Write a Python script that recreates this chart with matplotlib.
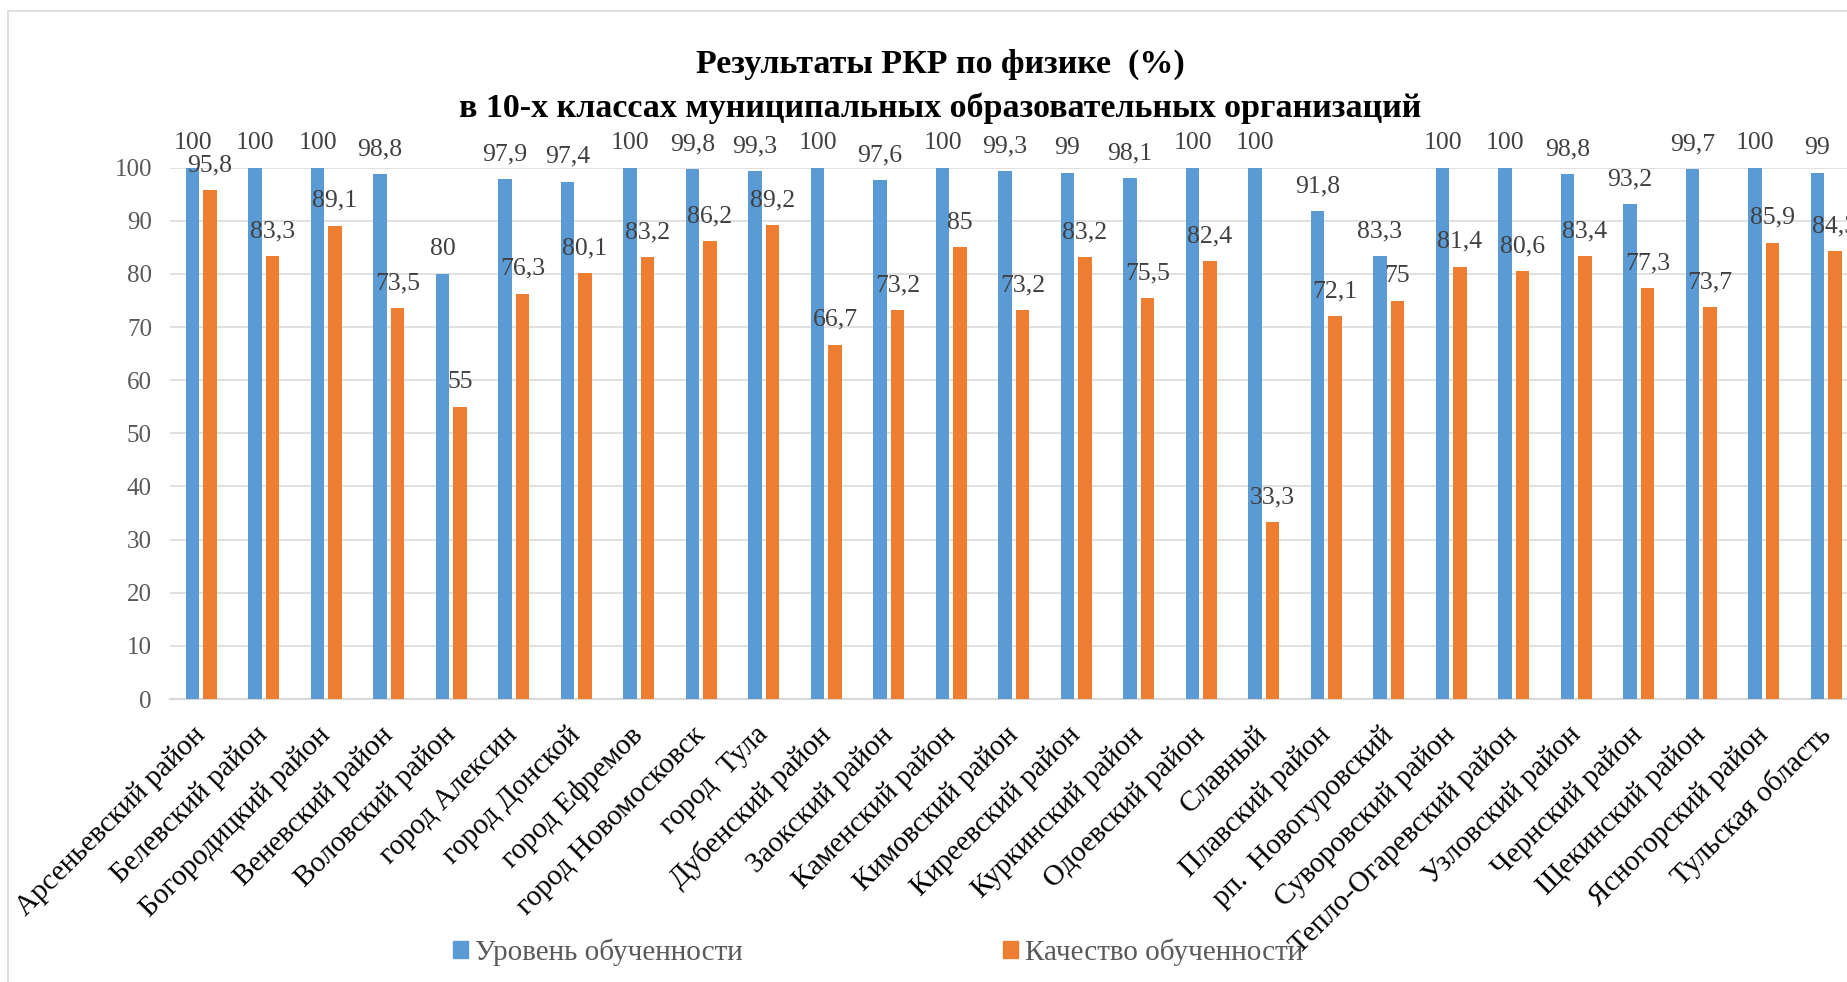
import numpy as np
import matplotlib
matplotlib.use("Agg")
import matplotlib.pyplot as plt
from matplotlib.patches import Patch, Rectangle

plt.rcParams['font.family'] = ['Liberation Serif', 'DejaVu Serif']

out_file = "out.png"

districts = ["Арсеньевский район", "Белевский район", "Богородицкий район",
             "Веневский район", "Воловский район", "город Алексин",
             "город Донской", "город Ефремов", "город Новомосковск",
             "город  Тула", "Дубенский район", "Заокский район",
             "Каменский район", "Кимовский район", "Киреевский район",
             "Куркинский район", "Одоевский район", "Славный",
             "Плавский район", "рп.  Новогуровский", "Суворовский район",
             "Тепло-Огаревский район", "Узловский район", "Чернский район",
             "Щекинский район", "Ясногорский район", "Тульская область"]

level = [100, 100, 100, 98.8, 80, 97.9, 97.4, 100, 99.8, 99.3, 100, 97.6, 100,
         99.3, 99, 98.1, 100, 100, 91.8, 83.3, 100, 100, 98.8, 93.2, 99.7, 100, 99]
quality = [95.8, 83.3, 89.1, 73.5, 55, 76.3, 80.1, 83.2, 86.2, 89.2, 66.7, 73.2, 85,
           73.2, 83.2, 75.5, 82.4, 33.3, 72.1, 75, 81.4, 80.6, 83.4, 77.3, 73.7, 85.9, 84.3]

series_names = ["Уровень обученности", "Качество обученности"]
blue, orange = "#5B9BD5", "#ED7D31"
grid_c = "#D9D9D9"

W, H = 1847, 982
fig = plt.figure(figsize=(W / 100, H / 100), dpi=100)

# chart frame (runs off the right / bottom edge like the source)
fig.add_artist(Rectangle((8 / W, -0.1), 1.2, 1 - 11 / H + 0.1,
                         transform=fig.transFigure, fill=False,
                         edgecolor=grid_c, lw=1.2))

ax = fig.add_axes([170 / W, 1 - 699 / H, 27 * 62.5 / W, (699 - 167.7) / H])

x = np.arange(len(districts))
off, bw = 0.14, 0.216
ax.bar(x - off, level, bw, color=blue, zorder=3)
ax.bar(x + off, quality, bw, color=orange, zorder=3)

def fmt(v):
    return f"{v:g}".replace(".", ",")

for xs, vals in ((x - off, level), (x + off, quality)):
    for xi, v in zip(xs, vals):
        ax.annotate(fmt(v), (xi, v), xytext=(0, 13.5), textcoords="offset points",
                    ha="center", va="baseline", fontsize=18.5, color="#404040",
                    zorder=4)

ax.set_xlim(-0.5, len(districts) - 0.5)
ax.set_ylim(0, 100)
ax.set_yticks(np.arange(0, 101, 10))
ax.yaxis.grid(True, color=grid_c, lw=1.1, zorder=0)
ax.tick_params(axis="y", length=0, pad=13, labelsize=18, labelcolor="#595959")
ax.tick_params(axis="x", length=0, pad=23)
for s in ("top", "right", "left"):
    ax.spines[s].set_visible(False)
ax.spines["bottom"].set_color(grid_c)
ax.spines["bottom"].set_linewidth(1.6)

ax.set_xticks(x)
ax.set_xticklabels(districts, rotation=45, ha="right", va="center",
                   rotation_mode="anchor", fontsize=21)

fig.text(940 / W, 1 - 73 / H, "Результаты РКР по физике  (%)", ha="center",
         va="baseline", fontsize=24.5, fontweight="bold")
fig.text(940 / W, 1 - 117 / H, "в 10-х классах муниципальных образовательных организаций",
         ha="center", va="baseline", fontsize=24.5, fontweight="bold")

handles = [Patch(color=blue), Patch(color=orange)]
fig.legend(handles, series_names, loc="center", bbox_to_anchor=(878 / W, 1 - 952 / H),
           ncol=2, frameon=False, fontsize=21, handlelength=0.52, handleheight=0.52,
           handletextpad=0.25, columnspacing=8.9, labelcolor="#595959")

fig.savefig(out_file, dpi=100)
